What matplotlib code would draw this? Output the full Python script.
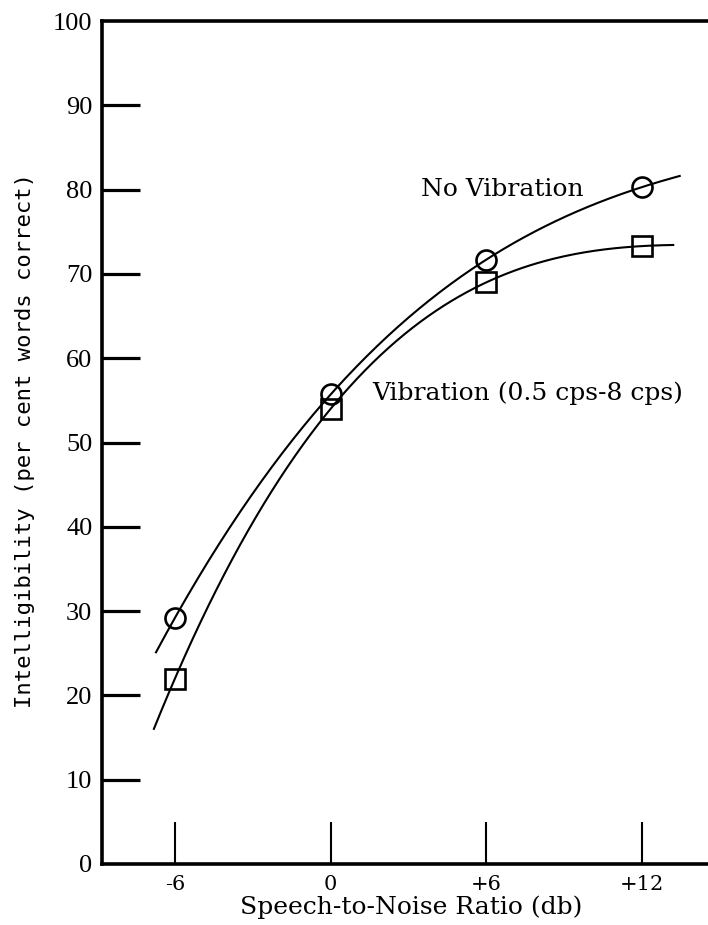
import numpy as np
import matplotlib
matplotlib.use("Agg")
import matplotlib.pyplot as plt

# Data
snr = [-6, 0, 6, 12]
no_vibration = [29.2, 55.7, 71.7, 80.3]
vibration = [22.0, 54.0, 69.0, 73.3]
x_ticks = [-6, 0, 6, 12]
x_tick_labels = ["-6", "0", "+6", "+12"]
y_ticks = [0, 10, 20, 30, 40, 50, 60, 70, 80, 90, 100]
y_tick_labels = [str(v) for v in y_ticks]

# fitted smooth curves through the measured points
nv_range = (-6.73, 13.45)
v_range = (-6.81, 13.2)

fig = plt.figure(figsize=(7.08, 9.25), dpi=100)
ax = fig.add_axes([102 / 708, (925 - 864) / 925, 606 / 708, (864 - 21) / 925])

ax.set_xlim(-8.81, 14.54)
ax.set_ylim(0, 100)

for series, rng in ((no_vibration, nv_range), (vibration, v_range)):
    coef = np.polyfit(snr, series, 3)
    xs = np.linspace(rng[0], rng[1], 200)
    ax.plot(xs, np.polyval(coef, xs), color="black", lw=1.5, zorder=2)

ax.plot(snr, no_vibration, linestyle="none", marker="o", ms=14.4,
        mfc="none", mec="black", mew=1.9, zorder=3)
ax.plot(snr, vibration, linestyle="none", marker="s", ms=14.0,
        mfc="none", mec="black", mew=1.9, zorder=3)

# spines
for side in ("left", "top", "bottom"):
    ax.spines[side].set_linewidth(2.6)
ax.spines["right"].set_visible(False)

# ticks
ax.set_xticks(x_ticks)
ax.set_xticklabels(x_tick_labels, fontfamily="DejaVu Serif", fontsize=15)
ax.tick_params(axis="x", direction="in", length=30, width=1.5, pad=8)
ax.set_yticks(y_ticks)
ax.set_yticklabels(y_tick_labels, fontfamily="Liberation Serif", fontsize=19)
ax.tick_params(axis="y", direction="in", length=27, width=2.3, pad=7)
for t in ax.yaxis.get_major_ticks():
    if t.get_loc() in (0, 100):
        t.tick1line.set_visible(False)

ax.text(6.6, 80.0, "No Vibration", fontfamily="DejaVu Serif", fontsize=18,
        ha="center", va="center")
ax.text(1.59, 55.9, "Vibration (0.5 cps-8 cps)", fontfamily="DejaVu Serif",
        fontsize=18, ha="left", va="center")

fig.text(411 / 708, 1 - 907 / 925, "Speech-to-Noise Ratio (db)",
         fontfamily="DejaVu Serif", fontsize=18, ha="center", va="center")
fig.text(25 / 708, 1 - 441 / 925, "Intelligibility (per cent words correct)",
         fontfamily="DejaVu Sans Mono", fontsize=16, rotation=90,
         ha="center", va="center")

fig.savefig("out.png", dpi=100, facecolor="white")
